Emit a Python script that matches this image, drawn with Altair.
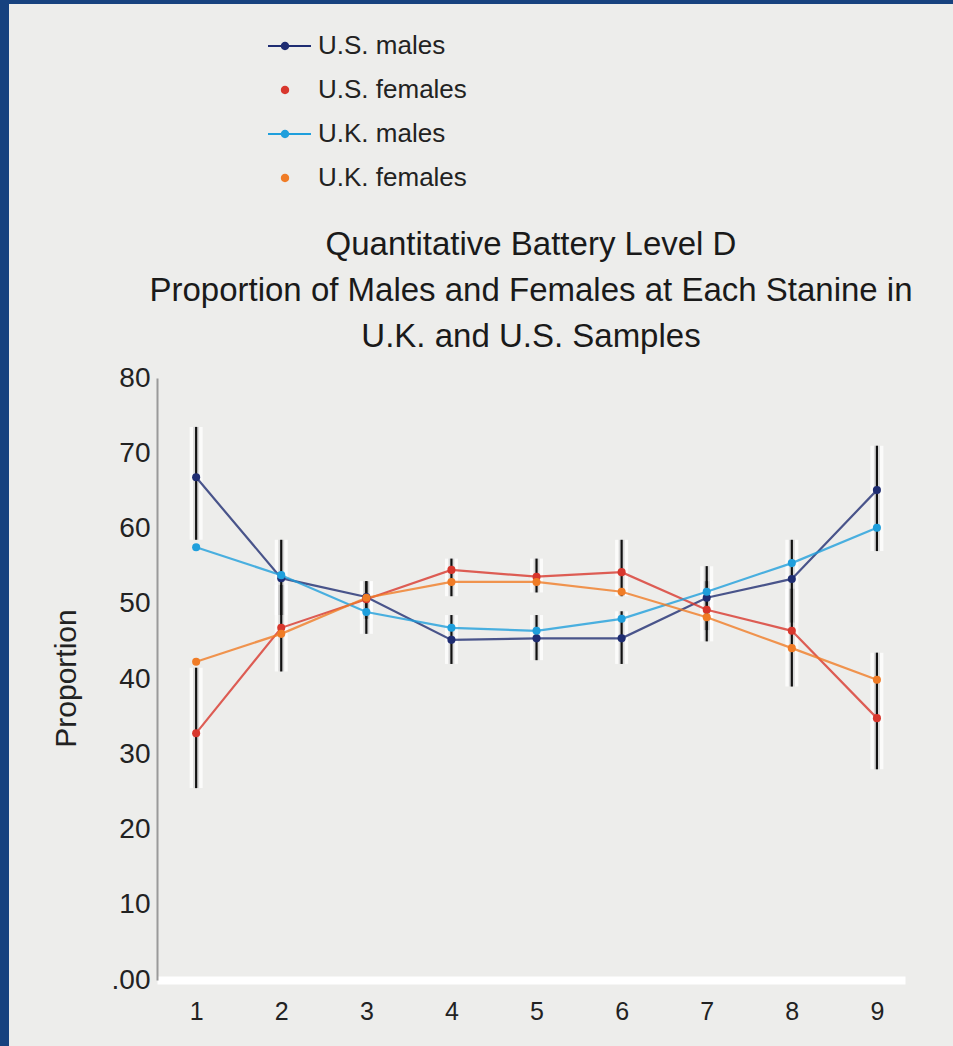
import altair as alt
import pandas as pd

# Stanine categories and the proportion (%) for each group
stanines = [1, 2, 3, 4, 5, 6, 7, 8, 9]
us_males = [66.8, 53.4, 50.9, 45.2, 45.4, 45.4, 50.8, 53.3, 65.1]
us_females = [32.8, 46.8, 50.6, 54.5, 53.6, 54.2, 49.2, 46.4, 34.8]
uk_males = [57.5, 53.8, 48.9, 46.8, 46.4, 48.0, 51.6, 55.4, 60.1]
uk_females = [42.3, 46.0, 50.8, 52.9, 52.9, 51.6, 48.2, 44.1, 39.9]

# Error-bar limits for the U.S. samples
us_males_lo = [58.5, 48.5, 48.0, 42.0, 42.5, 42.0, 46.5, 47.5, 57.0]
us_males_hi = [73.5, 58.5, 53.0, 48.5, 48.5, 49.0, 55.0, 58.5, 71.0]
us_females_lo = [25.5, 41.0, 46.0, 51.0, 51.5, 51.0, 45.0, 39.0, 28.0]
us_females_hi = [41.5, 52.5, 53.0, 56.0, 56.0, 58.5, 53.0, 52.0, 43.5]

series_names = ["U.S. males", "U.S. females", "U.K. males", "U.K. females"]
series_colors = ["#1f2d72", "#d8372d", "#1f9fdc", "#f07c26"]

rows = []
for name, vals in zip(series_names, [us_males, us_females, uk_males, uk_females]):
    for s, v in zip(stanines, vals):
        rows.append({"series": name, "stanine": s, "value": v})
df = pd.DataFrame(rows)

err_rows = []
for name, los, his in [("U.S. males", us_males_lo, us_males_hi),
                       ("U.S. females", us_females_lo, us_females_hi)]:
    for s, lo, hi in zip(stanines, los, his):
        err_rows.append({"series": name, "stanine": s, "lo": lo, "hi": hi})
err = pd.DataFrame(err_rows)

FONT = "Liberation Sans"
W, H = 748, 602
PAD_L, PAD_T, PAD_R, PAD_B = 157, 378, 48, 66

x_scale = alt.Scale(domain=[0.54, 9.33], nice=False, zero=False)
y_scale = alt.Scale(domain=[0, 80], nice=False)
color_scale = alt.Scale(domain=series_names, range=series_colors)

x_axis = alt.Axis(values=stanines, title=None, ticks=False, grid=False,
                  labelFontSize=25, labelPadding=19, labelColor="#222",
                  labelFont=FONT, domainColor="#ffffff", domainWidth=8)
y_axis = alt.Axis(values=list(range(0, 81, 10)), title="Proportion", ticks=False,
                  grid=False, labelFontSize=28, labelPadding=7, labelColor="#222",
                  labelFont=FONT, domainColor="#9a9a9a", domainWidth=2,
                  labelExpr="datum.value == 0 ? '.00' : datum.label",
                  titleFontSize=30, titleFont=FONT, titleFontWeight="normal",
                  titleColor="#222", titleX=-91, titleY=300, titleAngle=-90,
                  titleAlign="center", titleBaseline="middle")

x = alt.X("stanine:Q", scale=x_scale, axis=x_axis)
y = alt.Y("value:Q", scale=y_scale, axis=y_axis)

# Legend: males show a line with a dot, females only a dot
male_sym = "M-1.7,-0.11H2.6V0.11H-1.7Z M0.42,0A0.42,0.42 0 1,1 -0.42,0A0.42,0.42 0 1,1 0.42,0Z"
female_sym = "M0.42,0A0.42,0.42 0 1,1 -0.42,0A0.42,0.42 0 1,1 0.42,0Z"
legend_cfg = dict(title=None, orient="none", legendX=115, legendY=-345,
                  symbolSize=400, labelFontSize=26, labelFont=FONT,
                  labelColor="#222", labelOffset=20, rowPadding=18,
                  padding=0, symbolOpacity=1, symbolStrokeWidth=0)
color = alt.Color("series:N", scale=color_scale, legend=alt.Legend(**legend_cfg))

# Frame: blue strips along the left and top edges
frame_df = pd.DataFrame({"k": [0]})
left_strip = alt.Chart(frame_df).mark_rect(color="#17427f").encode(
    x=alt.value(-PAD_L), x2=alt.value(-PAD_L + 9),
    y=alt.value(-PAD_T), y2=alt.value(H + PAD_B))
top_strip = alt.Chart(frame_df).mark_rect(color="#17427f").encode(
    x=alt.value(-PAD_L), x2=alt.value(W + PAD_R),
    y=alt.value(-PAD_T), y2=alt.value(-PAD_T + 4))

legend_layer = alt.Chart(df).mark_point(filled=True, opacity=0).encode(
    x=x, y=y, color=color,
    shape=alt.Shape("series:N",
                    scale=alt.Scale(domain=series_names,
                                    range=[male_sym, female_sym, male_sym, female_sym]),
                    legend=alt.Legend(**legend_cfg))
)

base_err = alt.Chart(err).encode(
    x=alt.X("stanine:Q", scale=x_scale, axis=x_axis),
    y=alt.Y("lo:Q", scale=y_scale, axis=y_axis),
    y2="hi:Q")
halo = base_err.mark_rule(color="#ffffff", strokeWidth=13, opacity=0.75)
halo2 = base_err.mark_rule(color="#9a9a9a", strokeWidth=6, opacity=0.35)
bars = base_err.mark_rule(color="#111111", strokeWidth=2.2)

lines = alt.Chart(df).mark_line(strokeWidth=2.2, opacity=0.8).encode(
    x=x, y=y, color=color, detail="series:N")

points = alt.Chart(df).mark_point(filled=True, size=65, opacity=1).encode(
    x=x, y=y, color=color)

chart = alt.layer(
    left_strip, top_strip, legend_layer, halo, halo2, bars, lines, points
).properties(
    width=W, height=H,
    autosize=alt.AutoSizeParams(type="none"),
    padding={"left": PAD_L, "top": PAD_T, "right": PAD_R, "bottom": PAD_B},
    title=alt.TitleParams(
        text=["Quantitative Battery Level D",
              "Proportion of Males and Females at Each Stanine in",
              "U.K. and U.S. Samples"],
        fontSize=33, font=FONT, fontWeight="normal", color="#1a1a1a",
        anchor="middle", lineHeight=46, offset=-354)
).configure(
    background="#ededeb"
).configure_view(
    stroke=None
)

chart.save("out.html", embed_options={"renderer": "svg", "actions": False})
